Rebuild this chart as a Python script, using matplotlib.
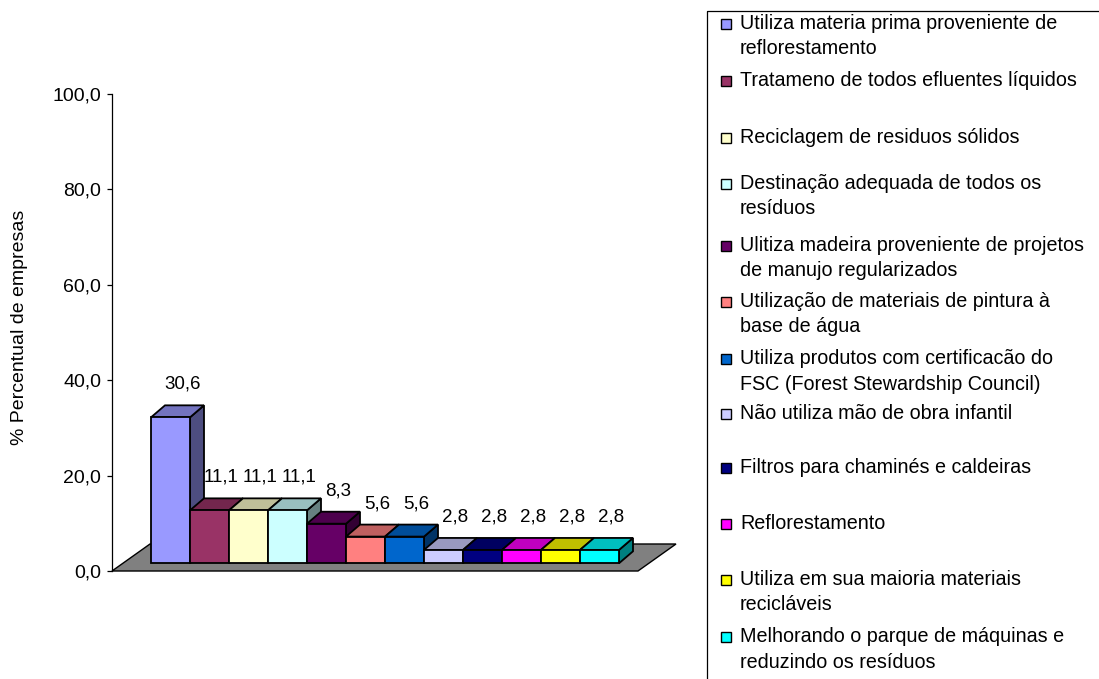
import numpy as np
import matplotlib
matplotlib.use("Agg")
import matplotlib.pyplot as plt
from matplotlib.patches import Polygon, Rectangle
from matplotlib.colors import to_rgb

plt.rcParams["font.family"] = ["Liberation Sans", "DejaVu Sans"]

# dados
categorias = [
    "Utiliza materia prima proveniente de\nreflorestamento",
    "Tratameno de todos efluentes líquidos",
    "Reciclagem de residuos sólidos",
    "Destinação adequada de todos os\nresíduos",
    "Ulitiza madeira proveniente de projetos\nde manujo regularizados",
    "Utilização de materiais de pintura à\nbase de água",
    "Utiliza produtos com certificacão do\nFSC (Forest Stewardship Council)",
    "Não utiliza mão de obra infantil",
    "Filtros para chaminés e caldeiras",
    "Reflorestamento",
    "Utiliza em sua maioria materiais\nrecicláveis",
    "Melhorando o parque de máquinas e\nreduzindo os resíduos",
]
valores = [30.6, 11.1, 11.1, 11.1, 8.3, 5.6, 5.6, 2.8, 2.8, 2.8, 2.8, 2.8]
cores = ["#9999FF", "#993366", "#FFFFCC", "#CCFFFF", "#660066", "#FF8080",
         "#0066CC", "#CCCCFF", "#000080", "#FF00FF", "#FFFF00", "#00FFFF"]
yticks = [0, 20, 40, 60, 80, 100]

# geometria (px -> unidades de dados)
W, H = 1099, 679
X0, X1, Y0, Y1 = 112, 674, 571, 94
PX_X = 39.0                      # px por unidade em x (largura da barra)
PX_Y = (Y0 - Y1) / 100.0         # px por unidade em y


def shade(c, f):
    return tuple(v * f for v in to_rgb(c))


fig = plt.figure(figsize=(W / 100, H / 100), dpi=100)
ax = fig.add_axes([X0 / W, (H - Y0) / H, (X1 - X0) / W, (Y0 - Y1) / H])
ax.set_xlim(0, (X1 - X0) / PX_X)
ax.set_ylim(0, 100)
for s in ("top", "right", "bottom"):
    ax.spines[s].set_visible(False)
ax.spines["left"].set_linewidth(0.9)
ax.set_xticks([])
ax.set_yticks(yticks)
ax.set_yticklabels([f"{t:.1f}".replace(".", ",") for t in yticks], fontsize=14)
ax.tick_params(axis="y", direction="out", length=3.8, width=0.9, pad=4)
ax.patch.set_alpha(0)

# piso
fdx, fdy = 38 / PX_X, 27 / PX_Y
fx1 = (638 - X0) / PX_X
floor = Polygon([(0, 0), (fx1, 0), (fx1 + fdx, fdy), (fdx, fdy)], closed=True,
                facecolor="#808080", edgecolor="black", lw=1.0, clip_on=False, zorder=1)
ax.add_patch(floor)

# barras 3D
bdx, bdy = 14 / PX_X, 12 / PX_Y
base = (Y0 - 563.3) / PX_Y
lw = 1.3
for i, (v, c) in enumerate(zip(valores, cores)):
    x = 1.0 + i
    top = base + v
    front = Polygon([(x, base), (x + 1, base), (x + 1, top), (x, top)],
                    facecolor=c, edgecolor="black", lw=lw, clip_on=False, zorder=2)
    side = Polygon([(x + 1, base), (x + 1 + bdx, base + bdy), (x + 1 + bdx, top + bdy),
                    (x + 1, top)], facecolor=shade(c, 0.5), edgecolor="black",
                   lw=lw, clip_on=False, zorder=2)
    topf = Polygon([(x, top), (x + 1, top), (x + 1 + bdx, top + bdy), (x + bdx, top + bdy)],
                   facecolor=shade(c, 0.75), edgecolor="black", lw=lw, clip_on=False, zorder=2)
    for p in (side, topf, front):
        ax.add_patch(p)

for i, v in enumerate(valores):
    ax.text(1.5 + i + 0.3, base + v + bdy + 21 / PX_Y, f"{v:.1f}".replace(".", ","),
            ha="center", va="center", fontsize=13.5, zorder=5, clip_on=False)

fig.text(20 / W, 1 - 327 / H, "% Percentual de empresas", rotation=90,
         ha="center", va="center", fontsize=14)

# legenda
lax = fig.add_axes([0, 0, 1, 1])
lax.set_xlim(0, W)
lax.set_ylim(H, 0)
lax.axis("off")
lax.add_patch(Rectangle((707, 11), 600, 800, facecolor="none", edgecolor="black",
                        lw=0.9, clip_on=False))
baselines = [29, 86, 143, 189, 251, 307, 364, 419, 473, 529, 585, 642]
for cat, c, yb in zip(categorias, cores, baselines):
    lax.add_patch(Rectangle((721, yb - 10.5), 10, 10, facecolor=c, edgecolor="black",
                            lw=1.0))
    for k, line in enumerate(cat.split("\n")):
        lax.text(740, yb + 25.5 * k, line, ha="left", va="baseline", fontsize=14.2)

fig.savefig("out.png", dpi=100)
